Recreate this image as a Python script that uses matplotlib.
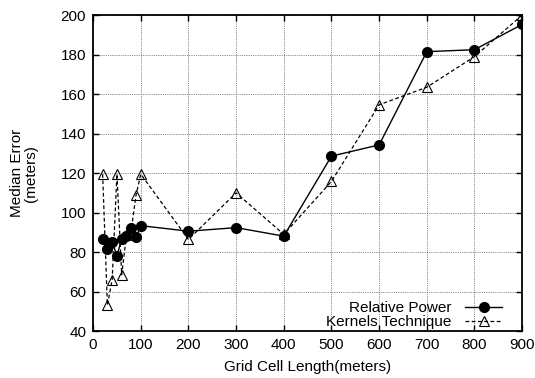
import matplotlib
matplotlib.use('agg')
import matplotlib.pyplot as plt

plt.rcParams['font.family'] = ['Liberation Sans', 'DejaVu Sans']

# grid cell length in meters
cell_length = [20, 30, 40, 50, 60, 70, 80, 90, 100,
               200, 300, 400, 500, 600, 700, 800, 900]

relative_power = [86.6, 81.4, 85.3, 78.1, 86.6, 88.3, 92.4, 87.5, 93.4,
                  90.6, 92.4, 88.1, 128.6, 134.3, 181.5, 182.5, 195.3]

kernels_technique = [119.5, 53.3, 66.0, 119.5, 68.5, 88.5, 91.0, 108.8, 119.5,
                     86.4, 110.0, 89.0, 115.8, 154.6, 163.5, 179.0, 200.0]

x_ticks = list(range(0, 1000, 100))
y_ticks = list(range(40, 220, 20))

fig = plt.figure(figsize=(5.35, 3.78), dpi=100)
ax = fig.add_axes([0.174, 0.124, 0.802, 0.836])

ax.plot(cell_length, relative_power, color='black', linestyle='-', linewidth=1.0,
        marker='o', markersize=7, markerfacecolor='black',
        label='Relative Power', zorder=3)
ax.plot(cell_length, kernels_technique, color='black', linestyle='--',
        linewidth=0.9, dashes=(3, 2), marker='^', markersize=7.5,
        markerfacecolor='none', markeredgewidth=0.8,
        label='Kernels Technique', zorder=2)

ax.set_xlim(0, 900)
ax.set_ylim(40, 200)
ax.set_xticks(x_ticks)
ax.set_yticks(y_ticks)
ax.grid(True, color='#666666', linestyle=(0, (1, 1.2)), linewidth=0.6)
ax.set_axisbelow(True)

ax.tick_params(direction='in', length=4, width=1.0, labelsize=11,
               top=True, right=True, pad=5)
for s in ax.spines.values():
    s.set_linewidth(1.3)

ax.set_xlabel('Grid Cell Length(meters)', fontsize=11, labelpad=6)
ax.set_ylabel('Median Error\n(meters)', fontsize=11, labelpad=16,
              linespacing=1.0)

leg = ax.legend(loc='lower right', bbox_to_anchor=(0.96, -0.003),
                frameon=False, markerfirst=False, fontsize=11,
                handlelength=2.4, borderaxespad=0, borderpad=0.2,
                labelspacing=0.0, handletextpad=0.9)
# right-align the legend labels against the line samples
for col in leg._legend_handle_box.get_children():
    col.align = 'right'

fig.savefig('out.png', dpi=100)
